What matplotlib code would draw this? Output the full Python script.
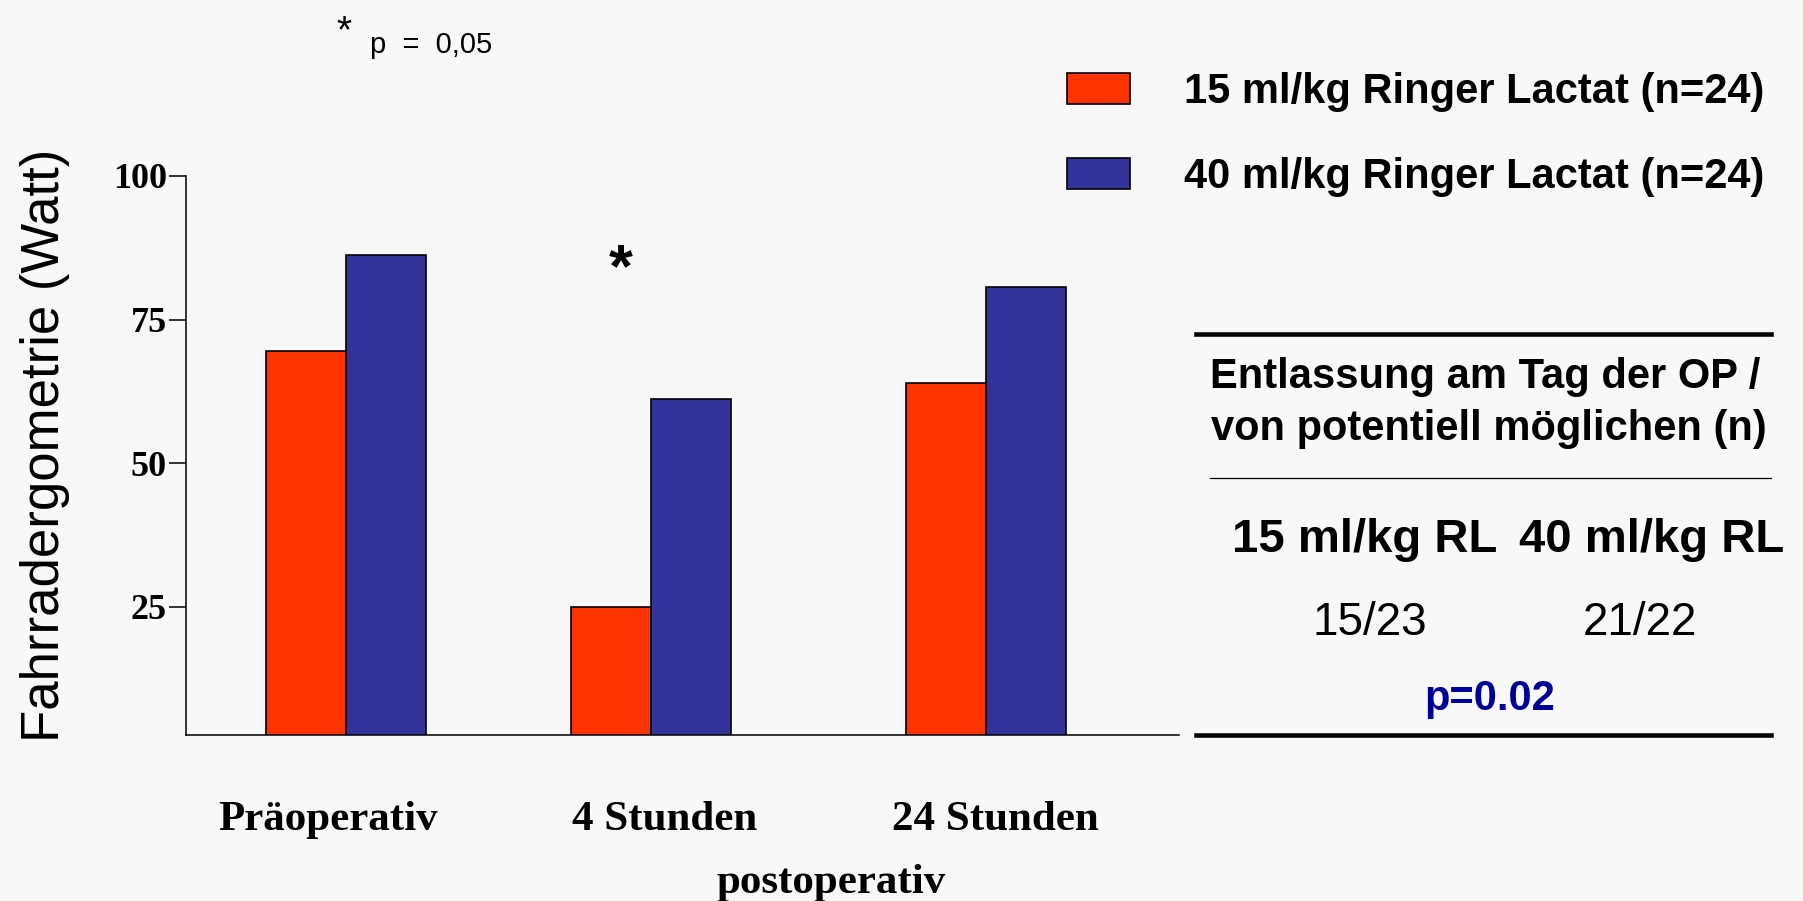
import numpy as np
import matplotlib.pyplot as plt
from matplotlib.lines import Line2D

# Fahrradergometrie (Watt), Mittelwerte je Zeitpunkt
zeitpunkte = ["Präoperativ", "4 Stunden", "24 Stunden"]
rl_15 = [69.6, 25.0, 64.0]
rl_40 = [86.2, 61.2, 80.6]
legend_labels = ["15 ml/kg Ringer Lactat (n=24)", "40 ml/kg Ringer Lactat (n=24)"]

# Entlassung am Tag der OP
gruppen = ["15 ml/kg RL", "40 ml/kg RL"]
entlassen = ["15/23", "21/22"]
p_entlassung = "p=0.02"

red = "#ff3300"
blue = "#333399"
bg = "#f8f8f8"
serif = "Liberation Serif"
sans = "Liberation Sans"

fig = plt.figure(figsize=(18.03, 9.01), dpi=100, facecolor=bg)
ax = fig.add_axes([0.1033, 0.1837, 0.5504, 0.6211], facecolor=bg)

x = np.array([0, 1, 2.1])
w = 0.262
b1 = ax.bar(x - w / 2, rl_15, w, color=red, edgecolor="black", linewidth=1.2,
            label=legend_labels[0])
b2 = ax.bar(x + w / 2, rl_40, w, color=blue, edgecolor="black", linewidth=1.2,
            label=legend_labels[1])

ax.set_xlim(-0.525, 2.732)
ax.set_ylim(2.6, 100)
ax.set_yticks([25, 50, 75, 100])
ax.set_yticklabels(["25", "50", "75", "100"], fontfamily=serif,
                   fontweight="bold", fontsize=26)
ax.tick_params(axis="y", length=12, width=1.1, pad=2)

label_shift = np.array([-0.058, 0.044, 0.031])
ax.set_xticks(x + label_shift)
ax.set_xticklabels(zeitpunkte, fontfamily=serif, fontweight="bold", fontsize=31)
ax.tick_params(axis="x", length=0, pad=47)

for side in ["top", "right"]:
    ax.spines[side].set_visible(False)
for side in ["left", "bottom"]:
    ax.spines[side].set_linewidth(1.1)

# significance marker over 4 h
ax.text(0.9, 80.8, "*", fontfamily=sans, fontweight="bold", fontsize=44,
        ha="center", va="baseline")

fig.text(0.4611, 0.009, "postoperativ", fontfamily=serif, fontweight="bold",
         fontsize=31, ha="center", va="baseline")
fig.text(0.0252, 0.5057, "Fahrradergometrie (Watt)", fontfamily=sans,
         fontsize=38, rotation=90, ha="center", va="center")

fig.text(0.191, 0.953, "*", fontfamily=sans, fontsize=28, ha="center",
         va="baseline")
fig.text(0.2054, 0.941, "p  =  0,05", fontfamily=sans, fontsize=21,
         ha="left", va="baseline")

fig.legend(handles=[b1, b2], loc="upper left", bbox_to_anchor=(0.5918, 0.9198),
           frameon=False, prop={"family": sans, "weight": "bold", "size": 30},
           handlelength=1.5, handleheight=0.77, handletextpad=1.3,
           labelspacing=1.08, borderpad=0, borderaxespad=0)

# table on the right
fig.add_artist(Line2D([0.6633, 0.9821], [0.6288, 0.6288], color="black",
                      lw=3.3, transform=fig.transFigure))
fig.add_artist(Line2D([0.6709, 0.9821], [0.4694, 0.4694], color="black",
                      lw=0.9, transform=fig.transFigure))
fig.add_artist(Line2D([0.6633, 0.9821], [0.1837, 0.1837], color="black",
                      lw=3.3, transform=fig.transFigure))

fig.text(0.824, 0.5816, "Entlassung am Tag der OP /", fontfamily=sans,
         fontweight="bold", fontsize=30, ha="center", va="center")
fig.text(0.826, 0.5242, "von potentiell möglichen (n)", fontfamily=sans,
         fontweight="bold", fontsize=30, ha="center", va="center")

for xc, g, n in zip([0.757, 0.9158], gruppen, entlassen):
    fig.text(xc, 0.4005, g, fontfamily=sans, fontweight="bold", fontsize=34,
             ha="center", va="center")
    fig.text(xc + 0.003 if xc < 0.8 else xc - 0.006, 0.308, n, fontfamily=sans,
             fontsize=33, ha="center", va="center")

fig.text(0.826, 0.224, p_entlassung, fontfamily=sans, fontweight="bold",
         fontsize=30, color="#000099", ha="center", va="center")

fig.savefig("out.png", dpi=100, facecolor=bg)
